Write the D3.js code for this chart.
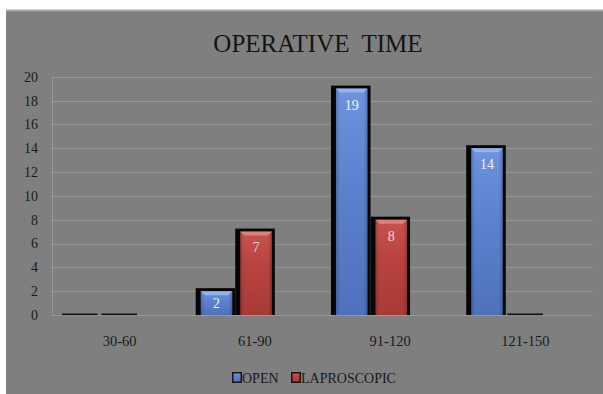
<!DOCTYPE html>
<html>
<head>
<meta charset="utf-8">
<script src="https://cdn.jsdelivr.net/npm/d3@7"></script>
<style>
  html, body { margin: 0; padding: 0; background: #ffffff; }
  svg { display: block; }
</style>
</head>
<body>
<svg id="chart" width="603" height="394"></svg>
<script>
// Operative time groups (minutes) and number of patients per approach
const categories = ["30-60", "61-90", "91-120", "121-150"];
const seriesNames = ["OPEN", "LAPROSCOPIC"];
const openValues = [0, 2, 19, 14];
const laparoscopicValues = [0, 7, 8, 0];
const yTicks = [0, 2, 4, 6, 8, 10, 12, 14, 16, 18, 20];
const titleText = "OPERATIVE  TIME";

const W = 603, H = 394;
const plot = { left: 52, right: 593, top: 76.7, bottom: 315 };
const SERIF = "font-family: 'Liberation Serif', 'DejaVu Serif', serif";

const svg = d3.select("#chart");
const defs = svg.append("defs");

// fills for each series: a soft top-to-bottom shade
const palettes = [
  { id: "gOpen", top: "#6d93de", mid: "#5c83cf", bottom: "#4e72ba", hi: "#9cb9ef", label: "#f2f4fb" },
  { id: "gLap", top: "#c9524d", mid: "#b9433f", bottom: "#a83a36", hi: "#e08a86", label: "#f0d6d6" }
];
palettes.forEach(p => {
  const g = defs.append("linearGradient").attr("id", p.id)
    .attr("x1", 0).attr("y1", 0).attr("x2", 0).attr("y2", 1);
  g.append("stop").attr("offset", "0%").attr("stop-color", p.top);
  g.append("stop").attr("offset", "40%").attr("stop-color", p.mid);
  g.append("stop").attr("offset", "100%").attr("stop-color", p.bottom);
  const s = defs.append("linearGradient").attr("id", p.id + "Side")
    .attr("x1", 0).attr("y1", 0).attr("x2", 1).attr("y2", 0);
  s.append("stop").attr("offset", "0%").attr("stop-color", "#000").attr("stop-opacity", 0.18);
  s.append("stop").attr("offset", "12%").attr("stop-color", "#000").attr("stop-opacity", 0);
  s.append("stop").attr("offset", "88%").attr("stop-color", "#000").attr("stop-opacity", 0);
  s.append("stop").attr("offset", "100%").attr("stop-color", "#000").attr("stop-opacity", 0.2);
});

// chart panel
svg.append("rect").attr("x", 6).attr("y", 10).attr("width", W - 6).attr("height", H - 10)
  .attr("fill", "#7f7f7f");
svg.append("line").attr("x1", 6).attr("x2", W).attr("y1", 10.5).attr("y2", 10.5)
  .attr("stroke", "#a6a6a6").attr("stroke-width", 2);

// title
svg.append("text").attr("x", 318).attr("y", 52)
  .attr("text-anchor", "middle").attr("style", SERIF + "; font-size: 25px; white-space: pre")
  .attr("fill", "#141414")
  .text(titleText);

// scales
const x = d3.scaleBand().domain(categories).range([plot.left, plot.right]).padding(0);
const y = d3.scaleLinear().domain([0, 20]).range([plot.bottom, plot.top]);
const groupWidth = x.bandwidth() * 0.585;
const groupShift = -x.bandwidth() * 0.145;
const xs = d3.scaleBand().domain(seriesNames).range([0, groupWidth]).padding(0);

// gridlines
svg.append("g").selectAll("line").data(yTicks).join("line")
  .attr("x1", plot.left).attr("x2", plot.right)
  .attr("y1", d => Math.round(y(d)) + 0.5).attr("y2", d => Math.round(y(d)) + 0.5)
  .attr("stroke", "#979797").attr("stroke-width", 1.2);
svg.append("line").attr("x1", plot.left + 0.5).attr("x2", plot.left + 0.5)
  .attr("y1", y(20)).attr("y2", y(0)).attr("stroke", "#979797").attr("stroke-width", 1);

// y axis labels
const yAxis = d3.axisLeft(y).tickValues(yTicks).tickSize(0).tickPadding(14).tickFormat(d3.format("d"));
const yg = svg.append("g").attr("transform", `translate(${plot.left},0)`).call(yAxis);
yg.select(".domain").remove();
yg.attr("font-family", null).attr("font-size", null);
yg.selectAll("text").attr("style", SERIF + "; font-size: 14px").attr("fill", "#1a1a1a");

// x axis labels
const xAxis = d3.axisBottom(x).tickSize(0).tickPadding(21);
const xg = svg.append("g").attr("transform", `translate(0,${plot.bottom})`).call(xAxis);
xg.select(".domain").remove();
xg.attr("font-family", null).attr("font-size", null);
xg.selectAll("text").attr("style", SERIF + "; font-size: 14.5px").attr("fill", "#1a1a1a");

// bars
const rows = categories.map((c, i) => ({
  cat: c,
  vals: [
    { s: seriesNames[0], v: openValues[i], p: palettes[0] },
    { s: seriesNames[1], v: laparoscopicValues[i], p: palettes[1] }
  ]
}));

const groups = svg.append("g").selectAll("g").data(rows).join("g")
  .attr("transform", d => `translate(${x(d.cat) + x.bandwidth() / 2 - groupWidth / 2 + groupShift},0)`);

groups.each(function (row) {
  const g = d3.select(this);
  row.vals.forEach(d => {
    const x0 = xs(d.s), w = xs.bandwidth();
    const yTop = y(d.v), base = y(0);
    if (d.v === 0) {
      g.append("rect").attr("x", x0 + 1.5).attr("y", base - 1.5)
        .attr("width", w - 4).attr("height", 1.6).attr("fill", "#111");
      return;
    }
    // dark frame behind the column
    g.append("rect").attr("x", x0).attr("y", yTop - 3)
      .attr("width", w).attr("height", base - yTop + 3).attr("fill", "#050505");
    const fx = x0 + 5, fw = w - 8;
    g.append("rect").attr("x", fx).attr("y", yTop)
      .attr("width", fw).attr("height", base - yTop).attr("fill", `url(#${d.p.id})`);
    g.append("rect").attr("x", fx).attr("y", yTop)
      .attr("width", fw).attr("height", base - yTop).attr("fill", `url(#${d.p.id}Side)`);
    // bevelled top edge
    g.append("path")
      .attr("d", `M${fx},${yTop} L${fx + fw},${yTop} L${fx + fw - 4},${yTop + 4} L${fx + 4},${yTop + 4} Z`)
      .attr("fill", d.p.hi).attr("opacity", 0.85);
    // value label
    const ly = Math.min(yTop + 16, (yTop + base) / 2);
    g.append("text").attr("x", fx + fw / 2).attr("y", ly).attr("dy", "0.35em")
      .attr("text-anchor", "middle").attr("style", SERIF + "; font-size: 14px")
      .attr("fill", d.p.label).text(d.v);
  });
});

// legend
const legend = svg.append("g");
const legendItems = [
  { name: seriesNames[0], p: palettes[0], x: 232 },
  { name: seriesNames[1], p: palettes[1], x: 291 }
];
legendItems.forEach(it => {
  legend.append("rect").attr("x", it.x).attr("y", 372).attr("width", 10).attr("height", 11)
    .attr("fill", "#151515");
  legend.append("rect").attr("x", it.x + 1.5).attr("y", 373.5).attr("width", 7).attr("height", 8)
    .attr("fill", `url(#${it.p.id})`);
  legend.append("text").attr("x", it.x + 10).attr("y", 383)
    .attr("style", SERIF + "; font-size: 14px").attr("fill", "#1a1a1a").text(it.name);
});
</script>
</body>
</html>
